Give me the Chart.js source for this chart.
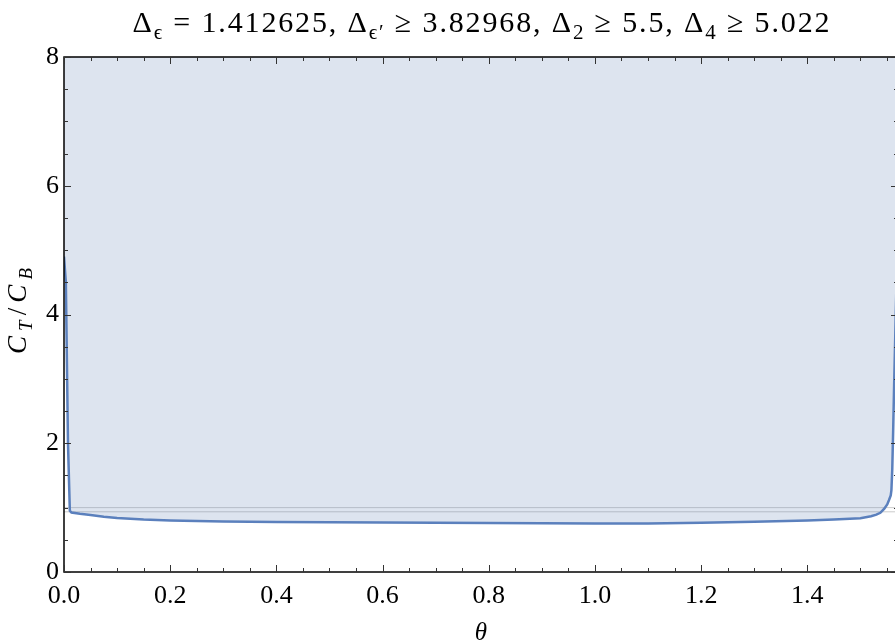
<!DOCTYPE html>
<html><head><meta charset="utf-8">
<script src="https://cdn.jsdelivr.net/npm/chart.js@4"></script>
<style>html,body{margin:0;padding:0;overflow:hidden;background:#fff}
#wrap{width:898px;height:644px;position:relative}</style>
</head><body><div id="wrap"><canvas id="c" width="898" height="644"></canvas></div>
<script>
// ---- data ----
const theta = [0, 0.0035, 0.0075, 0.011, 0.014, 0.03, 0.05, 0.075, 0.1, 0.15, 0.2, 0.3, 0.4, 0.5, 0.6, 0.7, 0.8, 0.9, 1.0, 1.1, 1.2, 1.3, 1.4, 1.45, 1.5, 1.52, 1.53, 1.5375, 1.545, 1.5505, 1.5537, 1.5571, 1.5584, 1.5600, 1.5617, 1.5637, 1.5659, 1.5708];
const ctOverCb = [4.9, 4.5, 2.0, 0.95, 0.925, 0.905, 0.885, 0.86, 0.84, 0.815, 0.80, 0.785, 0.778, 0.773, 0.77, 0.765, 0.762, 0.757, 0.753, 0.755, 0.765, 0.78, 0.80, 0.815, 0.835, 0.865, 0.89, 0.92, 0.985, 1.05, 1.115, 1.19, 1.27, 1.6, 2.2, 2.98, 3.76, 5.5];
const refLevels = [1.0, 0.935];
const xTickValues = [0, 0.2, 0.4, 0.6, 0.8, 1.0, 1.2, 1.4];
const yTickValues = [0, 2, 4, 6, 8];
const xMax = Math.PI / 2;
const yMax = 8;

const FONT = "'Liberation Serif', 'DejaVu Serif', serif";
const LINE = '#5b80bd';
const FILL = 'rgba(94,129,181,0.21)';

const curve = theta.map((t, i) => ({x: t, y: ctOverCb[i]}));
const refSets = refLevels.map(v => ({
  data: [{x: 0, y: v}, {x: xMax, y: v}],
  borderColor: 'rgba(140,140,140,0.45)', borderWidth: 1, pointRadius: 0, fill: false
}));

// rich text: parts = [text, sub?, italic?]; drawn char by char with optional extra spacing
function richWidth(ctx, parts, size, ls) {
  let w = 0, n = 0;
  parts.forEach(p => {
    ctx.font = `${p[2] ? 'italic ' : ''}${p[1] ? size * 0.7 : size}px ${FONT}`;
    for (const ch of p[0]) { w += ctx.measureText(ch).width; n++; }
  });
  return {w: w + ls * (n - 1), n};
}
function drawRich(ctx, parts, size, x, y, ls, targetW) {
  if (targetW) {
    const r = richWidth(ctx, parts, size, 0);
    ls = (targetW - r.w) / (r.n - 1);
  }
  const total = richWidth(ctx, parts, size, ls).w;
  let cx = x - total / 2;
  ctx.textAlign = 'left'; ctx.textBaseline = 'alphabetic';
  parts.forEach(p => {
    ctx.font = `${p[2] ? 'italic ' : ''}${p[1] ? size * 0.7 : size}px ${FONT}`;
    for (const ch of p[0]) {
      ctx.fillText(ch, cx, y + (p[1] ? size * 0.22 : 0));
      cx += ctx.measureText(ch).width + ls;
    }
  });
}

const decor = {
  id: 'decor',
  afterDatasetsDraw(chart) {
    const {ctx, chartArea: a, scales: {x, y}} = chart;
    ctx.save();
    ctx.strokeStyle = '#000';
    ctx.lineWidth = 1.5;
    ctx.strokeRect(a.left, a.top, a.right - a.left, a.bottom - a.top);
    ctx.lineWidth = 1;
    ctx.strokeStyle = '#333';
    ctx.beginPath();
    for (let k = 0; k * 0.05 <= xMax + 1e-9; k++) {
      const v = k * 0.05, px = Math.round(x.getPixelForValue(v)) + 0.5;
      const len = (k % 4 === 0) ? 7 : 4;
      ctx.moveTo(px, a.bottom); ctx.lineTo(px, a.bottom - len);
      ctx.moveTo(px, a.top); ctx.lineTo(px, a.top + len);
    }
    for (let k = 0; k * 0.5 <= yMax + 1e-9; k++) {
      const v = k * 0.5, py = Math.round(y.getPixelForValue(v)) + 0.5;
      const len = (k % 4 === 0) ? 7 : 4;
      ctx.moveTo(a.left, py); ctx.lineTo(a.left + len, py);
      ctx.moveTo(a.right, py); ctx.lineTo(a.right - len, py);
    }
    ctx.stroke();
    ctx.restore();
  },
  afterDraw(chart) {
    const {ctx, chartArea: a} = chart;
    ctx.save();
    ctx.fillStyle = '#000';
    const cxm = (a.left + a.right) / 2;
    drawRich(ctx, [
      ['Δ'], ['ϵ', 1], [' = 1.412625, Δ'], ['ϵ\u2032', 1], [' ≥ 3.82968, Δ'], ['2', 1],
      [' ≥ 5.5, Δ'], ['4', 1], [' ≥ 5.022']
    ], 30, 481, 32, 0, 697);
    drawRich(ctx, [['θ', 0, 1]], 25, cxm, 640, 0);
    ctx.translate(26, 311);
    ctx.rotate(-Math.PI / 2);
    drawRich(ctx, [['C', 0, 1], ['T', 1, 1], ['/', 0, 0], ['C', 0, 1], ['B', 1, 1]], 27, 0, 0, 0, 86);
    ctx.restore();
  }
};

new Chart(document.getElementById('c'), {
  type: 'line',
  data: {
    datasets: [
      {data: curve, borderColor: LINE, borderWidth: 2.5, pointRadius: 0, fill: 'end', backgroundColor: FILL, tension: 0},
      ...refSets
    ]
  },
  options: {
    responsive: false, animation: false, devicePixelRatio: 1,
    layout: {padding: {top: 57, left: 0, right: 0, bottom: 0}},
    plugins: {legend: {display: false}, tooltip: {enabled: false}, title: {display: false}},
    scales: {
      x: {
        type: 'linear', min: 0, max: xMax,
        afterBuildTicks: s => { s.ticks = xTickValues.map(v => ({value: v})); },
        afterFit: s => { s.height = 72; s.paddingLeft = 0; s.paddingRight = 0; },
        grid: {display: false, drawTicks: false}, border: {display: false},
        ticks: {padding: 9, color: '#000', maxRotation: 0, autoSkip: false,
          font: {family: FONT, size: 26}, callback: v => v.toFixed(1)}
      },
      y: {
        type: 'linear', min: 0, max: yMax,
        afterBuildTicks: s => { s.ticks = yTickValues.map(v => ({value: v})); },
        afterFit: s => { s.width = 64; s.paddingTop = 0; s.paddingBottom = 0; },
        grid: {display: false, drawTicks: false}, border: {display: false},
        ticks: {padding: 5, color: '#000', font: {family: FONT, size: 26}, callback: v => String(v)}
      }
    }
  },
  plugins: [decor]
});
</script></body></html>
